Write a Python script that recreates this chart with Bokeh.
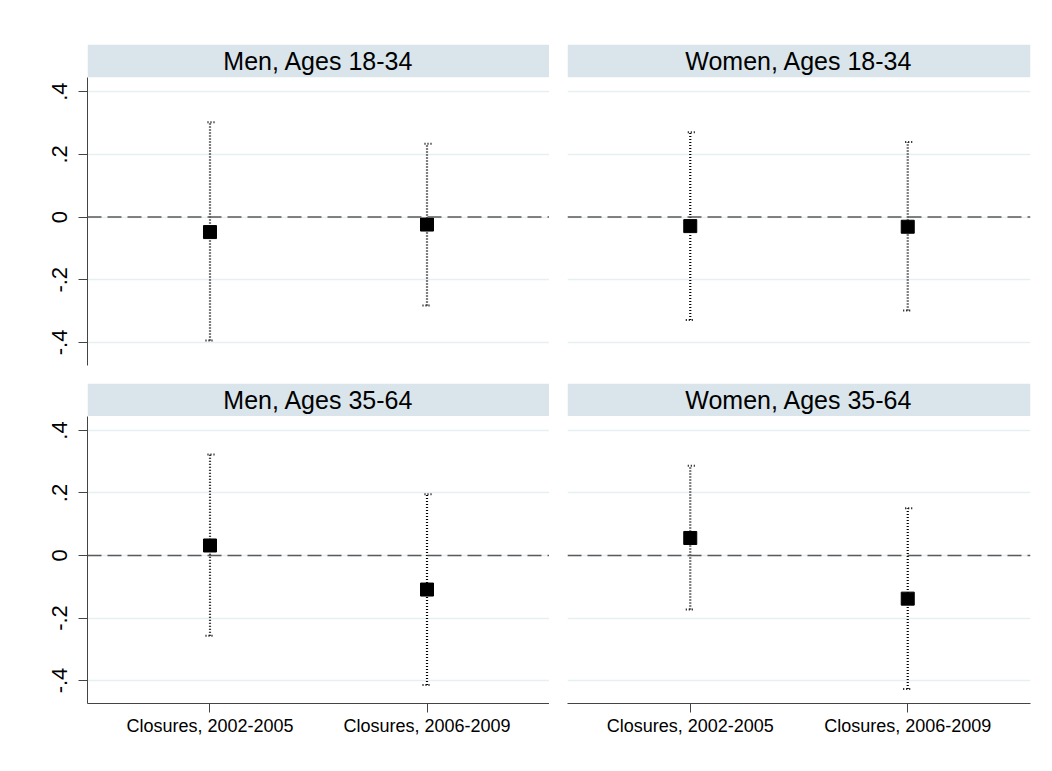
from bokeh.plotting import figure
from bokeh.layouts import gridplot
from bokeh.models import (ColumnDataSource, Range1d, LinearAxis, Grid, FixedTicker,
                          Span, Whisker, TeeHead, BoxAnnotation, Label)
from bokeh.embed import file_html
from bokeh.resources import INLINE

# ---- data -------------------------------------------------------------
categories = ["Closures, 2002-2005", "Closures, 2006-2009"]
panel_titles = ["Men, Ages 18-34", "Women, Ages 18-34",
                "Men, Ages 35-64", "Women, Ages 35-64"]

men_18_34_est = [-0.048, -0.024]
men_18_34_lo = [-0.394, -0.282]
men_18_34_hi = [0.302, 0.234]

women_18_34_est = [-0.029, -0.031]
women_18_34_lo = [-0.328, -0.298]
women_18_34_hi = [0.270, 0.239]

men_35_64_est = [0.032, -0.109]
men_35_64_lo = [-0.257, -0.414]
men_35_64_hi = [0.323, 0.196]

women_35_64_est = [0.056, -0.138]
women_35_64_lo = [-0.173, -0.427]
women_35_64_hi = [0.287, 0.151]

y_ticks = [-0.4, -0.2, 0.0, 0.2, 0.4]
y_tick_labels = ["-.4", "-.2", "0", ".2", ".4"]

# ---- styling / layout ---------------------------------------------------
FONT = "Liberation Sans"
STRIP_COLOR = "#D9E5EB"
GRID_COLOR = "#E6EFF1"
AXIS_COLOR = "#444444"

Y_LO, Y_HI = -0.4735, 0.5502      # frame covers the title strip too
STRIP_BOTTOM = 0.4459
TITLE_Y = STRIP_BOTTOM + 0.052    # vertical centre of the strip
X_LO, X_HI = 0.4355, 2.5645

x_pos = [i + 1 for i in range(len(categories))]


def make_panel(title, est, lo, hi, show_x, show_y,
               width, height, b_left, b_right, b_top, b_bottom):
    p = figure(width=width, height=height,
               x_range=Range1d(X_LO, X_HI), y_range=Range1d(Y_LO, Y_HI),
               output_backend="svg", toolbar_location=None,
               x_axis_location=None, y_axis_location=None,
               min_border_left=b_left, min_border_right=b_right,
               min_border_top=b_top, min_border_bottom=b_bottom,
               outline_line_color=None,
               background_fill_color="white", border_fill_color="white")

    # drop the default grids; only horizontal lines at the y ticks are wanted
    p.center = [r for r in p.center if not isinstance(r, Grid)]
    p.add_layout(Grid(dimension=1, ticker=FixedTicker(ticks=y_ticks),
                      grid_line_color=GRID_COLOR, grid_line_width=1.5))

    # title strip
    p.add_layout(BoxAnnotation(bottom=STRIP_BOTTOM, fill_color=STRIP_COLOR,
                               fill_alpha=1.0, line_color=None))
    p.add_layout(Label(x=sum(x_pos) / len(x_pos), y=TITLE_Y,
                       text=title, text_align="center",
                       text_baseline="middle", text_font=FONT,
                       text_font_size="25px", text_color="black"))

    # reference line at zero
    p.add_layout(Span(location=0, dimension="width", line_color="#5a5a5a",
                      line_width=1.5, line_dash="14 6"))

    src = ColumnDataSource(dict(x=x_pos, est=est, lo=lo, hi=hi))

    # confidence intervals (dotted)
    head_kw = dict(size=9, line_color="black", line_width=2, line_dash="1 2")
    p.add_layout(Whisker(source=src, base="x", upper="hi", lower="lo",
                         dimension="height", line_color="black",
                         line_width=2.2, line_dash="1 2",
                         upper_head=TeeHead(**head_kw),
                         lower_head=TeeHead(**head_kw)))

    # point estimates
    p.scatter("x", "est", source=src, marker="square", size=13,
              fill_color="black", line_color="black")

    if show_y:
        yax = LinearAxis(ticker=FixedTicker(ticks=y_ticks),
                         major_label_overrides=dict(zip(y_ticks, y_tick_labels)),
                         bounds=(Y_LO, STRIP_BOTTOM),
                         major_tick_out=9, major_tick_in=0,
                         minor_tick_out=0, minor_tick_in=0,
                         axis_line_color=AXIS_COLOR, major_tick_line_color=AXIS_COLOR,
                         major_label_orientation="vertical",
                         major_label_standoff=11,
                         major_label_text_font=FONT,
                         major_label_text_font_size="22px",
                         major_label_text_color="black")
        p.add_layout(yax, "left")

    if show_x:
        xax = LinearAxis(ticker=FixedTicker(ticks=x_pos),
                         major_label_overrides=dict(zip(x_pos, categories)),
                         major_tick_out=9, major_tick_in=0,
                         minor_tick_out=0, minor_tick_in=0,
                         axis_line_color=AXIS_COLOR, major_tick_line_color=AXIS_COLOR,
                         major_label_standoff=3,
                         major_label_text_font=FONT,
                         major_label_text_font_size="18px",
                         major_label_text_color="black")
        p.add_layout(xax, "below")
    return p


p1 = make_panel(panel_titles[0], men_18_34_est, men_18_34_lo, men_18_34_hi,
                False, True, 549, 383, 87, 0, 44, 18)
p2 = make_panel(panel_titles[1], women_18_34_est, women_18_34_lo, women_18_34_hi,
                False, False, 503, 383, 18, 22, 44, 18)
p3 = make_panel(panel_titles[2], men_35_64_est, men_35_64_lo, men_35_64_hi,
                True, True, 549, 388, 87, 0, 0, 68)
p4 = make_panel(panel_titles[3], women_35_64_est, women_35_64_lo, women_35_64_hi,
                True, False, 503, 388, 18, 22, 0, 68)

p = gridplot([[p1, p2], [p3, p4]], toolbar_location=None)

open("out.html", "w").write(file_html(p, INLINE))
